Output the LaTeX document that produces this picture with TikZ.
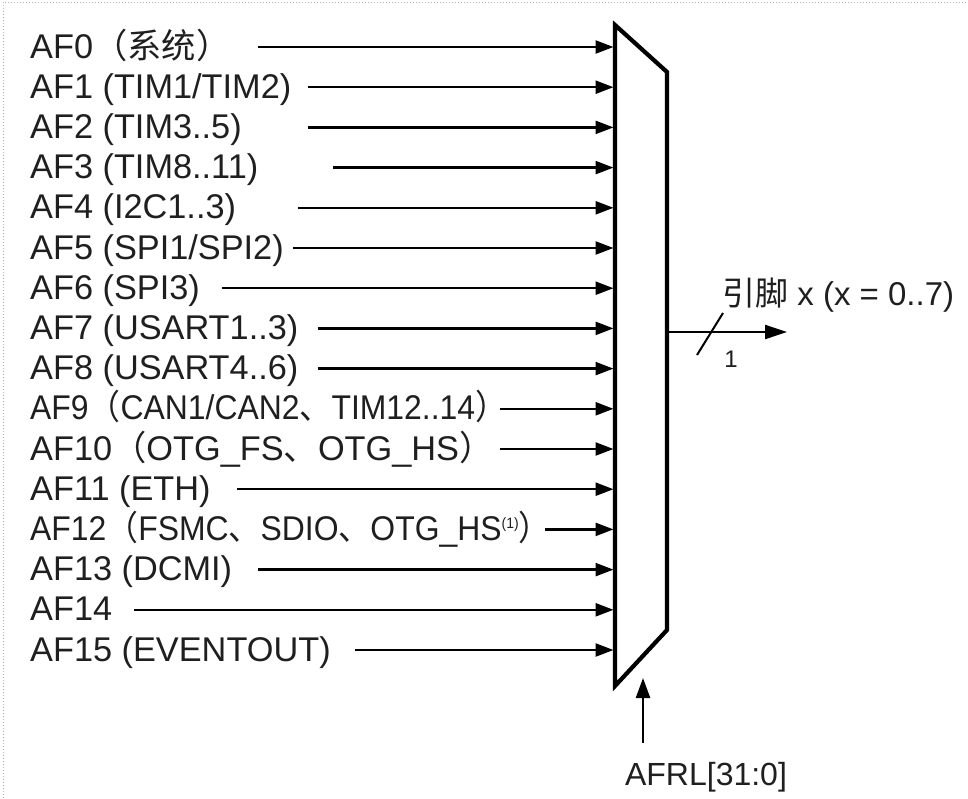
\documentclass[tikz,border=0pt]{standalone}
\usepackage{fontspec}
\setmainfont{Liberation Sans}
\newfontfamily\cjk{Noto Sans CJK SC}
\usetikzlibrary{arrows.meta}
\begin{document}
\begin{tikzpicture}[x=1pt,y=-1pt,
  lab/.style={anchor=base west, inner sep=0pt, text=black!88, font=\fontsize{34.3}{40}\selectfont},
  inarrow/.style={line width=2.4pt, -{Triangle[length=18pt,width=13pt]}},
  muxline/.style={line width=4.2pt, line join=miter},
]
\useasboundingbox (0,0) rectangle (968,798);
\fill[white] (0,0) rectangle (968,798);
\draw[black!30, dotted, line width=1pt] (3,798) -- (3,2) -- (968,2);

% multiplexer
\coordinate (mtl) at (615,25);
\coordinate (mtr) at (667,72);
\coordinate (mbr) at (667,630);
\coordinate (mbl) at (615,686);
\coordinate (min) at (613.5,0);
\draw[muxline] (mtl) -- (mtr) -- (mbr) -- (mbl) -- cycle;

% inputs
\node[lab] (l0) at (30,58) {AF0{\cjk （系统）}};
\node[lab] (l1) at (30,98.2) {AF1 (TIM1/TIM2)};
\node[lab] (l2) at (30,138.4) {AF2 (TIM3..5)};
\node[lab] (l3) at (30,178.6) {AF3 (TIM8..11)};
\node[lab] (l4) at (30,218.8) {AF4 (I2C1..3)};
\node[lab] (l5) at (30,259) {AF5 (SPI1/SPI2)};
\node[lab] (l6) at (30,299.2) {AF6 (SPI3)};
\node[lab] (l7) at (30,339.4) {AF7 (USART1..3)};
\node[lab] (l8) at (30,379.6) {AF8 (USART4..6)};
\node[lab] (l9) at (30,419.8) {\scalebox{0.93}[1]{AF9{\cjk （}CAN1/CAN2{\cjk 、}TIM12..14{\cjk ）}}};
\node[lab] (l10) at (30,460) {AF10{\cjk （}OTG\_FS{\cjk 、}OTG\_HS{\cjk ）}};
\node[lab] (l11) at (30,500.2) {AF11 (ETH)};
\node[lab] (l12) at (30,540.4) {\scalebox{0.93}[1]{AF12{\cjk （}FSMC{\cjk 、}SDIO{\cjk 、}OTG\_HS{\fontsize{15}{18}\selectfont\raisebox{12pt}{(1)}}{\cjk ）}}};
\node[lab] (l13) at (30,580.6) {AF13 (DCMI)};
\node[lab] (l14) at (30,620.8) {AF14};
\node[lab] (l15) at (30,661) {AF15 (EVENTOUT)};

\coordinate (s0) at (258,47);
\coordinate (s1) at (308,87.2);
\coordinate (s2) at (308,127.4);
\coordinate (s3) at (333,167.6);
\coordinate (s4) at (298,207.8);
\coordinate (s5) at (293,248);
\coordinate (s6) at (222,288.2);
\coordinate (s7) at (318,328.4);
\coordinate (s8) at (318,368.6);
\coordinate (s9) at (500,408.8);
\coordinate (s10) at (500,449);
\coordinate (s11) at (237,489.2);
\coordinate (s12) at (545,529.4);
\coordinate (s13) at (258,569.6);
\coordinate (s14) at (134,609.8);
\coordinate (s15) at (355,650);
\foreach \i in {0,...,15} {
  \draw[inarrow] (s\i) -- (s\i -| min);
}

% output
\coordinate (outS) at (667,332);
\coordinate (outE) at (787,332);
\draw[line width=2.4pt, -{Triangle[length=22pt,width=14pt]}] (outS) -- (outE);
\coordinate (slA) at (697,355);
\coordinate (slB) at (723,313);
\draw[line width=2pt] (slA) -- (slB);
\node[anchor=base, inner sep=0pt, text=black!88, font=\fontsize{24}{28}\selectfont] (one) at (731,367) {1};
\node[anchor=base west, inner sep=0pt, text=black!88, font=\fontsize{33}{38}\selectfont] (pin) at (722,305) {{\cjk 引脚} x (x = 0..7)};

% control
\coordinate (ctlS) at (643,743);
\coordinate (ctlE) at (643,678);
\draw[line width=2.4pt, -{Triangle[length=20pt,width=14pt]}] (ctlS) -- (ctlE);
\node[anchor=base, inner sep=0pt, text=black!88, font=\fontsize{32}{37}\selectfont] (afrl) at (706,785) {AFRL[31:0]};
\end{tikzpicture}
\end{document}
